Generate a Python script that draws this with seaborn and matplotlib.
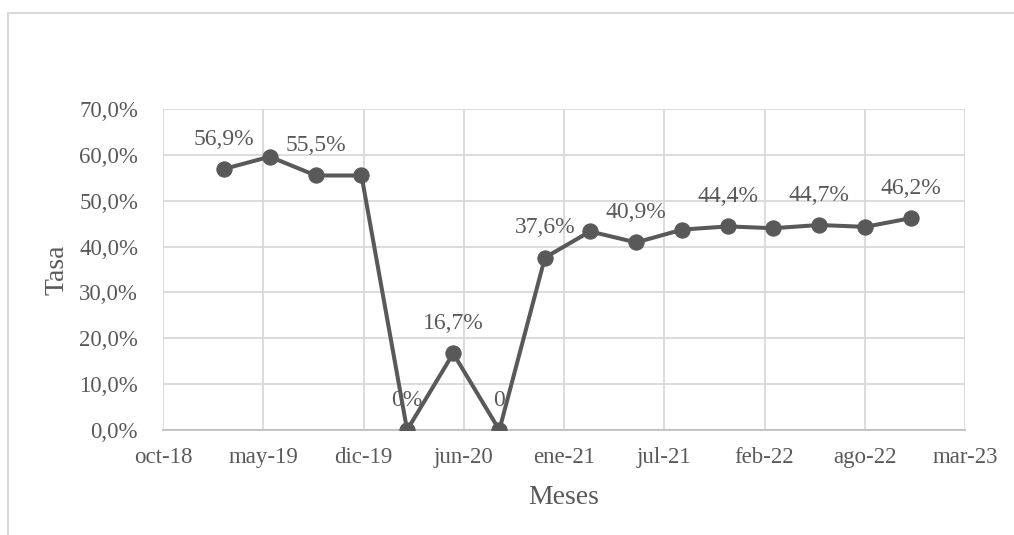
import matplotlib
matplotlib.use("Agg")
import matplotlib.pyplot as plt
import seaborn as sns
import pandas as pd
from matplotlib.patches import Rectangle
from matplotlib.ticker import FuncFormatter, MultipleLocator

# ---- data ----
fechas = ["2019-03-01", "2019-06-01", "2019-09-01", "2019-12-01",
          "2020-03-01", "2020-06-01", "2020-09-01", "2020-12-01",
          "2021-03-01", "2021-06-01", "2021-09-01", "2021-12-01",
          "2022-03-01", "2022-06-01", "2022-09-01", "2022-12-01"]
tasa = [56.9, 59.6, 55.5, 55.5, 0.0, 16.7, 0.0, 37.6,
        43.3, 40.9, 43.7, 44.4, 44.0, 44.7, 44.3, 46.2]
etiquetas = ["56,9%", None, "55,5%", None, "0%", "16,7%", "0", "37,6%",
             None, "40,9%", None, "44,4%", None, "44,7%", None, "46,2%"]
x_inicio = "2018-10-31"
x_ticks_labels = ["oct-18", "may-19", "dic-19", "jun-20", "ene-21",
                  "jul-21", "feb-22", "ago-22", "mar-23"]

sns.set_theme(style="white")
plt.rcParams["font.family"] = ["Liberation Serif", "DejaVu Serif"]
txt = "#595959"

df = pd.DataFrame({"fecha": pd.to_datetime(fechas), "tasa": tasa})

fig = plt.figure(figsize=(10.14, 5.35), dpi=100)
ax = fig.add_axes([163 / 1014, 105 / 535, 802 / 1014, 321 / 535])

sns.lineplot(data=df, x="fecha", y="tasa", ax=ax, color="#595959",
             linewidth=2.9, marker="o", markersize=11,
             markeredgecolor="#595959", markerfacecolor="#595959", zorder=3)

for f, v, lab in zip(df["fecha"], df["tasa"], etiquetas):
    if lab:
        ax.annotate(lab, (f, v), xytext=(0, 21.5), textcoords="offset points",
                    ha="center", va="center", fontsize=17, color=txt, zorder=4)

ticks = pd.date_range(pd.Timestamp(x_inicio), periods=len(x_ticks_labels), freq="200D")
ax.set_xlim(ticks[0], ticks[-1])
ax.set_xticks(ticks)
ax.set_xticklabels(x_ticks_labels)

ax.set_ylim(0, 70)
ax.yaxis.set_major_locator(MultipleLocator(10))
ax.yaxis.set_major_formatter(FuncFormatter(lambda v, p: f"{v:.1f}%".replace(".", ",")))

ax.grid(True, color="#d9d9d9", linewidth=1.3)
ax.set_axisbelow(True)
for s in ["top", "right", "left"]:
    ax.spines[s].set_visible(False)
ax.spines["bottom"].set_color("#bfbfbf")
ax.spines["bottom"].set_linewidth(1.3)

ax.tick_params(axis="both", length=0, labelsize=16.5, labelcolor=txt)
ax.tick_params(axis="y", pad=18)
ax.tick_params(axis="x", pad=12.5)

ax.set_xlabel("Meses", fontsize=20, color=txt)
ax.set_ylabel("Tasa", fontsize=20, color=txt)
ax.xaxis.label.set_va("center")
ax.yaxis.label.set_va("center")
ax.xaxis.set_label_coords(0.5, (430 - 497) / 321)
ax.yaxis.set_label_coords((57 - 163) / 802, 0.5)

fig.add_artist(Rectangle((7.5 / 1014, -0.1), 1.2, (535 - 13.3) / 535 + 0.1,
                         transform=fig.transFigure, fill=False,
                         edgecolor="#d9d9d9", linewidth=1.5))

fig.savefig("out.png", dpi=100)
